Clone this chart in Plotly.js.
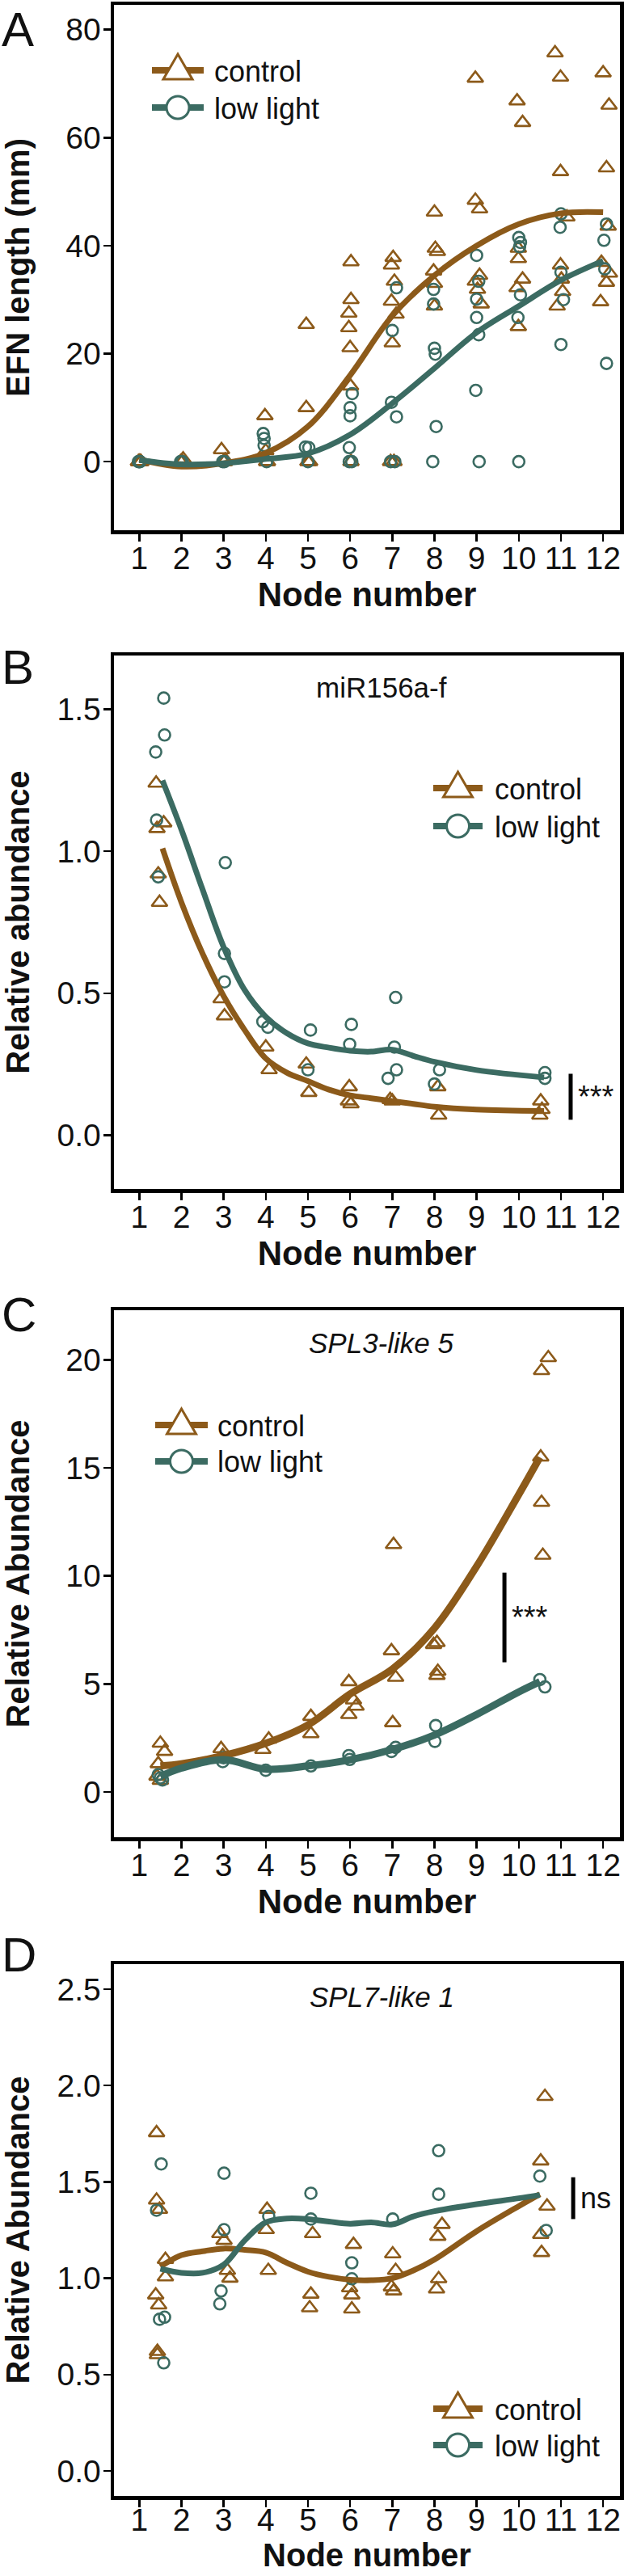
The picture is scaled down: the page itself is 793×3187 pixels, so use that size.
<!DOCTYPE html>
<html>
<head>
<meta charset="utf-8">
<script src="https://cdn.plot.ly/plotly-3.0.1.min.js"></script>
<style>html,body{margin:0;padding:0;background:#fff;}#chart{width:793px;height:3187px;}</style>
</head>
<body>
<div id="chart"></div>
<script>
// ---------- DATA ----------
var seriesNames = ['control', 'low light'];
var xTickVals = [1,2,3,4,5,6,7,8,9,10,11,12];

// Panel A : EFN length (mm)
var ctrlA_x = [0.98,1.0,1.02,1.04,1.0, 1.98,2.0,2.02,2.04, 2.95,3.0,3.02,3.04, 3.98,4.0,4.02,4.04, 4.96,4.96,5.0,5.04,
  6.02,6.02,5.97,5.97,6.0,6.01,6.02, 7.02,6.98,7.05,6.98,7.09,7.0,6.96,7.04, 8.0,8.02,8.07,7.98,8.0,8.0,
  8.97,8.97,9.07,9.07,8.97,9.02,9.11, 9.96,10.09,9.99,9.99,10.09,9.96,9.99, 10.86,10.99,10.99,11.14,10.99,11.01,11.04,10.91,
  12.0,12.14,12.08,12.12,11.96,12.15,12.08,11.94];
var ctrlA_y = [0,0,0,0,0, 0,0,0,0.5, 2.2,0,0,0.3, 8.5,2.0,0,0, 25.4,10,0,0,
  37,30,27.5,24.8,21.1,14,0, 37.8,36.4,33.4,29.7,27.3,22,0,0, 46.2,39.5,38.9,35.3,33,28.8,
  71,48.4,46.8,34.5,33.4,31.9,29.2, 66.8,62.8,39.5,37.6,33.8,32.2,25, 75.7,71.2,53.7,45.3,36.4,33.8,31.5,28.8,
  72,66,54.4,43.6,36.9,34.9,33.2,29.6];
var lowA_x = [0.98,1.0,1.02, 1.98,2.02, 2.98,3.02, 3.94,3.96,3.96,4.02, 4.94,5.02,5.0,
  6.05,6.0,6.0,5.98,5.98,6.04, 7.1,7.0,6.98,7.1,6.96,7.06, 7.98,7.98,8.0,8.02,8.04,7.96,
  9.0,9.05,9.0,9.0,9.05,8.98,9.06, 10.0,10.04,10.02,10.04,9.98,10.0, 11.0,10.98,11.0,11.06,11.0, 12.08,12.02,12.04,12.08];
var lowA_y = [0,0,0, 0,0, 0,0, 5.2,4.3,3.0,0, 2.7,2.6,0,
  12.6,10,8.5,2.6,0,0, 32.2,24.3,11,8.3,0,0, 31.9,29.2,21,19.9,6.5,0,
  38.2,33.4,30.1,26.7,23.5,13.2,0, 41.5,40.6,39.8,30.9,26.7,0, 45.9,43.4,35.1,30,21.7, 44,41,35.7,18.2];
var fitA_x = [1,2,3,4,5,6,7,8,9,10,11,12];
var fitA_ctrl = [0.4,-0.9,-0.3,1.6,6.5,16,27,34.5,40,44,46,46.2];
var fitA_low = [0.3,-0.5,-0.3,0.5,1.5,5,10.8,17.3,23.9,28.8,33.6,37.2];

// Panel B : miR156a-f
var ctrlB_x = [1.4,1.42,1.58,1.45,1.48, 2.94,3.02, 4.0,4.08, 4.96,5.02, 5.98,6.02,5.96, 6.95,7.0, 8.08,8.1, 10.52,10.55,10.5];
var ctrlB_y = [1.24,1.08,1.10,0.92,0.82, 0.48,0.42, 0.31,0.23, 0.25,0.15, 0.17,0.11,0.12, 0.125,0.12, 0.17,0.07, 0.12,0.09,0.07];
var lowB_x = [1.58,1.6,1.39,1.41,1.45, 3.04,3.02,3.02, 3.93,4.05, 5.06,5.0, 6.03,5.99, 7.08,7.05,7.1,6.9, 8.12,8.0, 10.62,10.62];
var lowB_y = [1.54,1.41,1.35,1.11,0.91, 0.96,0.64,0.54, 0.40,0.38, 0.37,0.23, 0.39,0.32, 0.485,0.31,0.23,0.20, 0.23,0.18, 0.22,0.20];
var fitB_x = [1.55,2,2.5,3,3.5,4,4.5,5,5.5,6,6.5,7,7.5,8,9,10.6];
var fitB_ctrl = [1.01,0.82,0.64,0.49,0.37,0.27,0.22,0.19,0.16,0.14,0.13,0.12,0.11,0.10,0.09,0.085];
var fitB_low = [1.25,1.076,0.866,0.663,0.511,0.417,0.359,0.323,0.308,0.297,0.294,0.301,0.279,0.258,0.229,0.203];

// Panel C : SPL3-like 5
var ctrlC_x = [1.5,1.6,1.45,1.42,1.5, 2.94,2.98, 4.07,3.93, 5.07,5.07, 5.97,6.08,6.14,5.97, 7.03,6.98,7.08,7.01, 8.06,7.98,8.08,8.06, 10.7,10.54,10.52,10.54,10.57];
var ctrlC_y = [2.25,1.87,1.3,0.72,0.53, 2.0,1.68, 2.44,1.96, 3.49,2.69, 5.1,4.25,3.96,3.58, 11.45,6.53,5.3,3.2, 6.91,6.82,5.58,5.39, 20.1,19.5,15.5,13.4,10.95];
var lowC_x = [1.45,1.5,1.55, 3.0,2.98, 4.0, 5.07, 5.97,5.99, 7.08,6.98, 8.03,8.01, 10.5,10.62];
var lowC_y = [0.8,0.65,0.55, 1.58,1.4, 1.0, 1.2, 1.68,1.5, 2.06,1.87, 3.07,2.34, 5.2,4.86];
var fitC_x = [1.5,2,3,4,5,6,7,8,9,10,10.5];
var fitC_ctrl = [1.2,1.3,1.68,2.25,3.1,4.53,5.68,7.58,10.44,13.77,15.49];
var fitC_low = [0.72,1.1,1.49,1.05,1.2,1.49,1.96,2.63,3.58,4.63,5.1];

// Panel D : SPL7-like 1
var ctrlD_x = [1.41,1.41,1.48,1.62,1.62,1.39,1.46,1.43,1.43, 2.91,3.01,3.09,3.15, 4.03,4.01,4.06, 5.11,5.07,5.04,
  6.08,5.99,6.04,6.04, 7.01,7.08,6.98,7.03, 8.18,8.08,8.1,8.05, 10.62,10.52,10.67,10.52,10.54];
var ctrlD_y = [1.755,1.405,1.357,1.097,1.007,0.913,0.861,0.62,0.603, 1.231,1.196,1.04,1.0, 1.357,1.252,1.04, 1.231,0.917,0.846,
  1.175,0.95,0.913,0.84, 1.126,1.04,0.955,0.934, 1.279,1.217,0.997,0.944, 1.943,1.608,1.374,1.227,1.133];
var lowD_x = [1.52,1.41,1.6,1.48,1.58, 3.01,3.01,2.94,2.91, 4.07, 5.07,5.07, 6.04,6.04, 7.01, 8.1,8.1, 10.5,10.65];
var lowD_y = [1.593,1.353,0.798,0.787,0.561, 1.545,1.252,0.934,0.867, 1.321, 1.441,1.307, 1.08,0.997, 1.307, 1.662,1.436, 1.53,1.248];
var fitD_x = [1.5,2,2.5,3,3.5,4,4.5,5,5.5,6,6.5,7,7.5,8,9,10,10.5];
var fitD_ctrl = [1.06,1.12,1.14,1.154,1.147,1.133,1.08,1.034,1.007,0.992,0.99,1.0,1.04,1.097,1.244,1.374,1.436];
var fitD_low = [1.049,1.028,1.028,1.07,1.196,1.29,1.31,1.307,1.294,1.283,1.29,1.279,1.321,1.348,1.384,1.415,1.432];

// significance marks [x, yFrom, yTo, label]
var sigB = [11.23, 0.054, 0.216, '***'];
var sigC = [9.66, 6.0, 10.15, '***'];
var sigD = [11.29, 1.307, 1.524, 'ns'];

var panelLetters = ['A','B','C','D'];
var geneLabels = ['', 'miR156a-f', '<i>SPL3-like 5</i>', '<i>SPL7-like 1</i>'];
var yTitles = ['EFN length (mm)', 'Relative abundance', 'Relative Abundance', 'Relative Abundance'];
var xTitle = 'Node number';

// ---------- STYLE / LAYOUT ----------
var BROWN = '#8C5A1A', TEAL = '#3B6B62';
var FONT = 'Liberation Sans, Arial, Helvetica, sans-serif';
var W = 793, H = 3187;
function py(p){ return 1 - p / H; }
var xDom = [141 / W, 767 / W];
var frames = [[6,656],[811,1471],[1621,2273],[2430,3088]];
var yRanges = [[-12.7,84.6],[-0.19,1.69],[-2.1,22.3],[-0.13,2.63]];
var yDtick = [20, 0.5, 5, 0.5];
var yFmt = ['d', '.1f', 'd', '.1f'];
var xLabelShift = [-12, -12, -12, -17];
var xTitleSize = [42, 42, 42, 40];
var letterTop = [13, 802, 1603, 2395];
// key geometry (px): line x0, line x1, text x, row y control, row y low light
var legendGeo = [[188,252,263,87,133],[536,597,610,975,1022],[192,257,267,1763,1808],[536,597,610,2980,3025]];

var sets = [
  {cx:ctrlA_x, cy:ctrlA_y, lx:lowA_x, ly:lowA_y, fx:fitA_x, fc:fitA_ctrl, fl:fitA_low},
  {cx:ctrlB_x, cy:ctrlB_y, lx:lowB_x, ly:lowB_y, fx:fitB_x, fc:fitB_ctrl, fl:fitB_low},
  {cx:ctrlC_x, cy:ctrlC_y, lx:lowC_x, ly:lowC_y, fx:fitC_x, fc:fitC_ctrl, fl:fitC_low},
  {cx:ctrlD_x, cy:ctrlD_y, lx:lowD_x, ly:lowD_y, fx:fitD_x, fc:fitD_ctrl, fl:fitD_low}
];
var traces = [];
var layout = {width: W, height: H, margin: {l:0, r:0, t:0, b:0}, paper_bgcolor: '#fff', plot_bgcolor: '#fff',
  font: {family: FONT, color: '#000'}, showlegend: false, annotations: [], shapes: []};

sets.forEach(function(s, i){
  var n = i === 0 ? '' : String(i + 1);
  var xa = 'x' + n, ya = 'y' + n;
  var lw = i === 2 ? 9 : 7;
  traces.push({type:'scatter', mode:'markers', x:s.cx, y:s.cy, xaxis:xa, yaxis:ya, name:seriesNames[0], hoverinfo:'skip',
    marker:{symbol:'triangle-up-open', size:17, color:BROWN, line:{width:2.6, color:BROWN}}});
  traces.push({type:'scatter', mode:'markers', x:s.lx, y:s.ly, xaxis:xa, yaxis:ya, name:seriesNames[1], hoverinfo:'skip',
    marker:{symbol:'circle-open', size:14, color:TEAL, line:{width:2.6, color:TEAL}}});
  traces.push({type:'scatter', mode:'lines', x:s.fx, y:s.fc, xaxis:xa, yaxis:ya, name:seriesNames[0] + ' fit', hoverinfo:'skip',
    line:{color:BROWN, width:lw, shape:'spline', smoothing:1}});
  traces.push({type:'scatter', mode:'lines', x:s.fx, y:s.fl, xaxis:xa, yaxis:ya, name:seriesNames[1] + ' fit', hoverinfo:'skip',
    line:{color:TEAL, width:lw, shape:'spline', smoothing:1}});
  var fr = frames[i];
  layout['xaxis' + n] = {domain: xDom, anchor: ya, range: [0.4, 12.4], tickvals: xTickVals, ticks: 'outside', ticklen: 9, tickwidth: 2.5,
    tickcolor: '#000', showline: true, mirror: true, linewidth: 4.5, linecolor: '#000', showgrid: false, zeroline: false,
    ticklabelstandoff: xLabelShift[i],
    tickfont: {size: 39, color: '#111'}, title: {text: xTitle, font: {size: xTitleSize[i], weight: 'bold', color: '#111'}, standoff: 1}, fixedrange: true};
  layout['yaxis' + n] = {domain: [py(fr[1]), py(fr[0])], anchor: xa, range: yRanges[i], dtick: yDtick[i], tick0: 0, tickformat: yFmt[i],
    ticks: 'outside', ticklen: 9, tickwidth: 2.5, tickcolor: '#000', showline: true, mirror: true, linewidth: 4.5,
    linecolor: '#000', showgrid: false, zeroline: false, tickfont: {size: 39, color: '#111'}, ticklabelstandoff: -5,
    title: {text: yTitles[i], font: {size: 40, weight: 'bold', color: '#111'}, standoff: 35}, fixedrange: true};
  // panel letter
  layout.annotations.push({xref:'paper', yref:'paper', x:0.0, y:py(letterTop[i] - 12), xanchor:'left', yanchor:'top',
    text: panelLetters[i], showarrow:false, font:{size:60, color:'#111'}});
  // gene label
  if (geneLabels[i]) {
    layout.annotations.push({xref:'paper', yref:'paper', x:472 / W, y:py(fr[0] + 40), xanchor:'center', yanchor:'middle',
      text: geneLabels[i], showarrow:false, font:{size:35, color:'#111'}});
  }
  // key: line sample + symbol + label
  var g = legendGeo[i];
  var cxm = (g[0] + g[1]) / 2 / W;
  [[BROWN, g[3], 'tri', seriesNames[0]], [TEAL, g[4], 'circ', seriesNames[1]]].forEach(function(e){
    layout.shapes.push({type:'line', xref:'paper', yref:'paper', x0:g[0] / W, x1:g[1] / W, y0:py(e[1]), y1:py(e[1]),
      line:{color:e[0], width:8}, layer:'above'});
    if (e[2] === 'tri') {
      layout.shapes.push({type:'path', xref:'paper', yref:'paper', xsizemode:'pixel', ysizemode:'pixel',
        xanchor:cxm, yanchor:py(e[1]), path:'M-18,-11 L18,-11 L0,20 Z', fillcolor:'#fff', line:{color:e[0], width:3}, layer:'above'});
    } else {
      layout.shapes.push({type:'circle', xref:'paper', yref:'paper', xsizemode:'pixel', ysizemode:'pixel',
        xanchor:cxm, yanchor:py(e[1]), x0:-14, x1:14, y0:-14, y1:14, fillcolor:'#fff', line:{color:e[0], width:3}, layer:'above'});
    }
    layout.annotations.push({xref:'paper', yref:'paper', x:g[2] / W, y:py(e[1] + 1), xanchor:'left', yanchor:'middle',
      text:e[3], showarrow:false, font:{size:36, color:'#111'}});
  });
});
[[sigB, 2], [sigC, 3], [sigD, 4]].forEach(function(p){
  var s = p[0], k = String(p[1]);
  layout.shapes.push({type:'line', xref:'x' + k, yref:'y' + k, x0:s[0], x1:s[0], y0:s[1], y1:s[2], line:{color:'#000', width:5}});
  layout.annotations.push({xref:'x' + k, yref:'y' + k, x:s[0], y:(s[1] + s[2]) / 2, xanchor:'left', yanchor:'middle', xshift:7,
    text: s[3], showarrow:false, font:{size:(s[3] === 'ns' ? 36 : 38), color:'#111'}});
});

Plotly.newPlot('chart', traces, layout, {staticPlot: true, displayModeBar: false});
</script>
</body>
</html>
